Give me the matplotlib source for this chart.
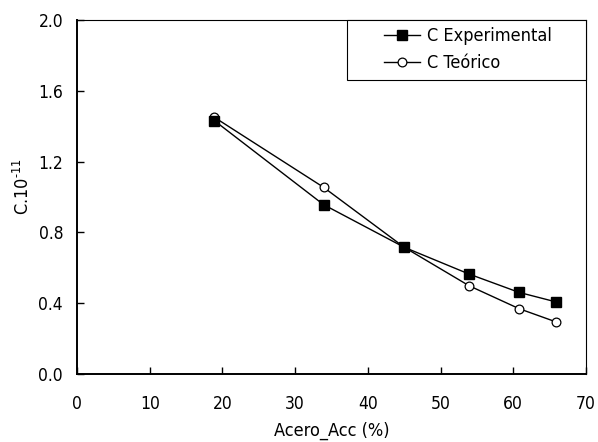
import matplotlib
matplotlib.use("Agg")
import matplotlib.pyplot as plt
from matplotlib.patches import Rectangle

# data
acero_acc = [18.9, 33.9, 45.0, 53.9, 60.8, 65.9]
c_experimental = [1.431, 0.957, 0.716, 0.565, 0.461, 0.407]
c_teorico = [1.450, 1.055, 0.716, 0.499, 0.369, 0.294]

x_ticks = [0, 10, 20, 30, 40, 50, 60, 70]
y_ticks = [0.0, 0.4, 0.8, 1.2, 1.6, 2.0]

plt.rcParams["font.family"] = "DejaVu Sans"
plt.rcParams["font.stretch"] = "condensed"
plt.rcParams["mathtext.fontset"] = "dejavusans"

fig = plt.figure(figsize=(5.98, 4.42), dpi=100)
ax = fig.add_axes([77 / 598, 68 / 442, 509 / 598, 354 / 442])

# experimental on top of the theoretical curve, as in the original
ax.plot(acero_acc, c_experimental, color="black", lw=1.0, marker="s",
        ms=6.7, mfc="black", mec="black", label="C Experimental", zorder=3)
ax.plot(acero_acc, c_teorico, color="black", lw=1.0, marker="o",
        ms=6.3, mfc="white", mec="black", mew=0.9, label="C Teórico", zorder=2)

ax.set_xlim(0, 70)
ax.set_ylim(0, 2.0)
ax.set_xticks(x_ticks)
ax.set_yticks(y_ticks)
ax.set_xticklabels([str(v) for v in x_ticks])
ax.set_yticklabels([f"{v:.1f}" for v in y_ticks])
ax.tick_params(axis="x", direction="in", length=5, width=1, pad=15, labelsize=12.5)
ax.tick_params(axis="y", direction="in", length=5, width=1, pad=10, labelsize=12.5)

for side in ["left", "bottom"]:
    ax.spines[side].set_linewidth(1.4)
for side in ["top", "right"]:
    ax.spines[side].set_linewidth(0.8)

ax.set_xlabel("Acero_Acc (%)", fontsize=13)
ax.set_ylabel("C.10$^{\\text{-11}}$", fontsize=13)
ax.xaxis.set_label_coords(0.5, -0.135)
ax.yaxis.set_label_coords(-0.087, 0.53)

# legend box drawn by hand, entries placed inside it
ax.add_patch(Rectangle((0.530, 0.830), 0.470, 0.170, transform=ax.transAxes,
                       facecolor="white", edgecolor="black", lw=0.8,
                       zorder=4, clip_on=False))
leg = ax.legend(loc="upper left", bbox_to_anchor=(0.586, 1.005), frameon=False,
                borderpad=0, handlelength=2.0, handletextpad=0.35,
                labelspacing=0.5, fontsize=13)
leg.set_zorder(5)

fig.savefig("out.png", dpi=100)
